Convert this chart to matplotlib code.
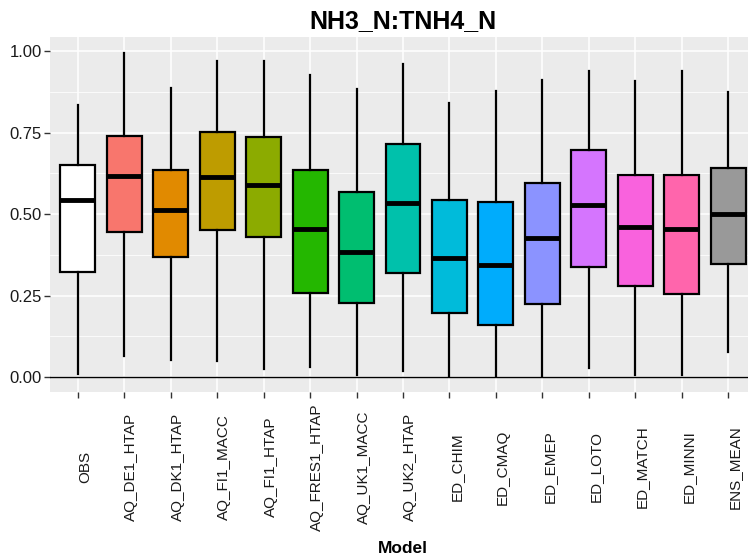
import matplotlib
matplotlib.use("Agg")
import matplotlib.pyplot as plt
from matplotlib.ticker import MultipleLocator

# --- data ---
models = ["OBS", "AQ_DE1_HTAP", "AQ_DK1_HTAP", "AQ_FI1_MACC", "AQ_FI1_HTAP",
          "AQ_FRES1_HTAP", "AQ_UK1_MACC", "AQ_UK2_HTAP", "ED_CHIM", "ED_CMAQ",
          "ED_EMEP", "ED_LOTO", "ED_MATCH", "ED_MINNI", "ENS_MEAN"]
whisk_lo = [0.008, 0.063, 0.053, 0.049, 0.024, 0.032, 0.006, 0.018,
            0.004, 0.004, 0.004, 0.029, 0.006, 0.006, 0.078]
q1 = [0.323, 0.444, 0.369, 0.450, 0.430, 0.259, 0.227, 0.320,
      0.197, 0.160, 0.223, 0.338, 0.280, 0.255, 0.348]
med = [0.544, 0.617, 0.514, 0.614, 0.591, 0.453, 0.384, 0.535,
       0.365, 0.343, 0.427, 0.527, 0.462, 0.455, 0.501]
q3 = [0.651, 0.741, 0.637, 0.751, 0.737, 0.635, 0.567, 0.716,
      0.542, 0.537, 0.597, 0.698, 0.621, 0.621, 0.643]
whisk_hi = [0.834, 0.995, 0.887, 0.970, 0.970, 0.926, 0.884, 0.960,
            0.841, 0.877, 0.913, 0.939, 0.908, 0.940, 0.874]
fills = ["#FFFFFF", "#F8766D", "#E18A00", "#BE9C00", "#8CAB00", "#24B700",
         "#00BE70", "#00C1AB", "#00BBDA", "#00ACFC", "#8B93FF", "#D575FE",
         "#F962DD", "#FF65AC", "#999999"]

plt.rcParams["font.family"] = ["Liberation Sans", "DejaVu Sans"]

fig = plt.figure(figsize=(7.48, 5.6), dpi=100)
# panel is a bit wider than the figure (cut off on the right, like the reference)
ax = fig.add_axes([50 / 748, 168 / 560, 706 / 748, 355 / 560])
ax.set_facecolor("#EBEBEB")

stats = []
for i, m in enumerate(models):
    stats.append({"label": m, "whislo": whisk_lo[i], "q1": q1[i], "med": med[i],
                  "q3": q3[i], "whishi": whisk_hi[i]})

pos = list(range(1, len(models) + 1))
bp = ax.bxp(stats, positions=pos, widths=0.75, patch_artist=True,
            showfliers=False, showcaps=False,
            boxprops=dict(edgecolor="black", linewidth=1.6),
            whiskerprops=dict(color="black", linewidth=1.6),
            medianprops=dict(color="black", linewidth=3.5, solid_capstyle="butt"),
            zorder=3)
for patch, c in zip(bp["boxes"], fills):
    patch.set_facecolor(c)

ax.axhline(0, color="black", linewidth=1.0, zorder=2)

ax.set_xlim(0.4, len(models) + 0.6)
ax.set_ylim(-0.046, 1.044)
ax.yaxis.set_minor_locator(MultipleLocator(0.125))
ax.set_yticks([0, 0.25, 0.5, 0.75, 1.0])
ax.set_yticklabels(["0.00", "0.25", "0.50", "0.75", "1.00"])
ax.set_xticks(pos)
# ggplot-style rotated labels: centred vertically, sitting just right of the tick
ax.set_xticklabels(models, rotation=90, ha="left", va="center")

ax.grid(which="major", color="white", linewidth=1.1, zorder=0)
ax.grid(which="minor", axis="y", color="white", linewidth=0.55, zorder=0)
ax.set_axisbelow(True)
for s in ax.spines.values():
    s.set_visible(False)

ax.tick_params(axis="both", which="major", color="#333333", length=4, width=1,
               labelcolor="#1A1A1A")
ax.tick_params(axis="y", labelsize=12, pad=2)
ax.tick_params(axis="x", labelsize=11, pad=50)
ax.tick_params(axis="both", which="minor", length=0)

fig.text(403 / 748, 1 - 553 / 560, "Model", fontsize=12.5, fontweight="bold",
         ha="center", va="baseline")
fig.text(403 / 748, 1 - 28 / 560, "NH3_N:TNH4_N", fontsize=18, fontweight="bold",
         ha="center", va="baseline")

fig.savefig("out.png", dpi=100)
